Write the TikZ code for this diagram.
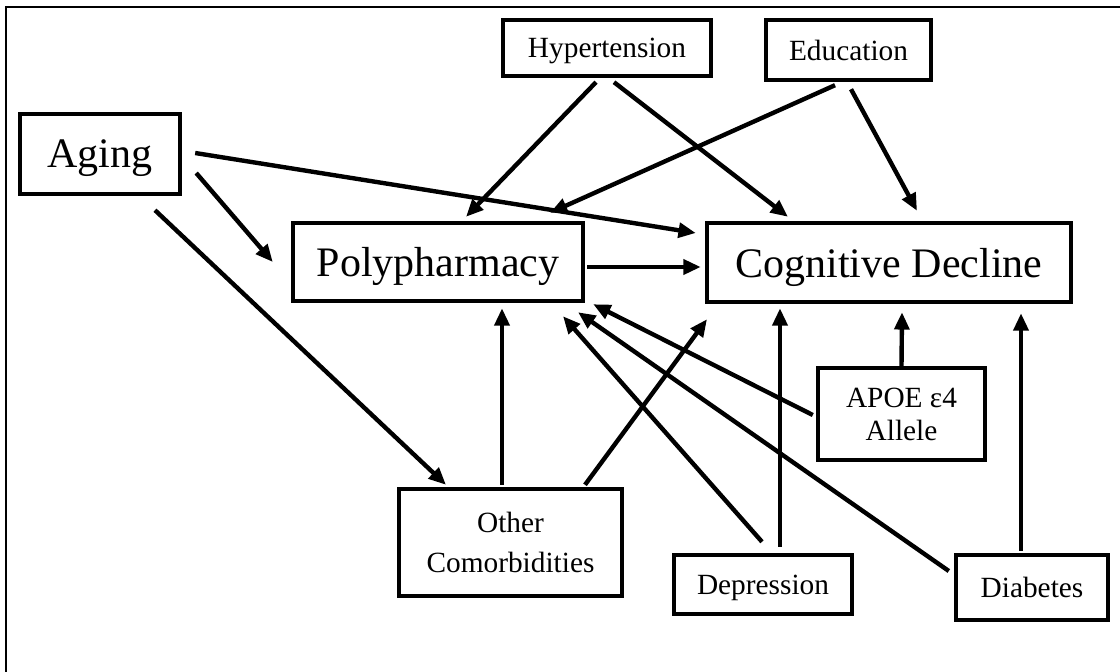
\documentclass[tikz,border=0pt]{standalone}
\usepackage{fontspec}
\setmainfont{Liberation Serif}
\usetikzlibrary{arrows.meta,calc}

\begin{document}
\begin{tikzpicture}[x=0.75pt,y=-0.75pt, >={Triangle[length=13pt,width=11pt]},
  every node/.style={align=center,inner sep=0pt,text depth=0pt},
  bigbox/.style={draw,line width=3.3pt,font=\fontsize{31.5}{37}\selectfont},
  smallbox/.style={draw,line width=3.3pt,font=\fontsize{22}{25}\selectfont},
  link/.style={->,line width=3.3pt}]
\clip (0,0) rectangle (1120,671);
\draw[line width=1.5pt] (5.5,7) rectangle (1140,690);
\node[bigbox,minimum width=.75pt*160,minimum height=.75pt*80] (aging) at (100,154) {Aging};
\node[bigbox,minimum width=.75pt*290,minimum height=.75pt*78] (poly) at (438,262) {Polypharmacy};
\node[bigbox,minimum width=.75pt*364,minimum height=.75pt*79] (cog) at (889,262.5) {Cognitive Decline};
\node[smallbox,minimum width=.75pt*208,minimum height=.75pt*56] (hyper) at (607,48) {Hypertension};
\node[smallbox,minimum width=.75pt*165,minimum height=.75pt*60] (edu) at (848.5,50) {Education};
\node[smallbox,minimum width=.75pt*223,minimum height=.75pt*107] (other) at (510.5,542.5) {Other\\[5pt]Comorbidities};
\node[smallbox,minimum width=.75pt*167,minimum height=.75pt*92] (apoe) at (901.5,414) {APOE ε4\\Allele};
\node[smallbox,minimum width=.75pt*178,minimum height=.75pt*59] (dep) at (763,584.5) {Depression};
\node[smallbox,minimum width=.75pt*152,minimum height=.75pt*65] (diab) at (1032,587.5) {Diabetes};
\draw[link] ($(aging.east)+(14,19)$) -- ($(poly.west)+(-18,0)$);
\draw[link] ($(aging.east)+(13,-1)$) -- ($(cog.west)+(-9,-29.5)$);
\draw[link] ($(aging.south)+(55,14)$) -- ($(other.north)+(-64.5,-2)$);
\draw[link] ($(hyper.south)+(-11,4)$) -- ($(poly.north)+(28,-4)$);
\draw[link] ($(hyper.south)+(7,4)$) -- ($(cog.north)+(-101,-4)$);
\draw[link] ($(edu.south)+(-13.5,3)$) -- ($(poly.north)+(112,-8)$);
\draw[link] ($(edu.south)+(2.5,7)$) -- ($(cog.north)+(28,-10)$);
\draw[link] ($(poly.east)+(2,5)$) -- ($(cog.west)+(-4,4.5)$);
\draw[link] ($(other.north)+(-8.5,-2)$) -- ($(poly.south)+(64,5)$);
\draw[link] ($(other.north)+(74.5,-2)$) -- ($(cog.south)+(-182,15)$);
\draw[link] ($(dep.north)+(-1,-11)$) -- ($(poly.south)+(125,13)$);
\draw[link] ($(dep.north)+(17,-6)$) -- ($(cog.south)+(-109,4)$);
\draw[link] ($(diab.west)+(-5,-16.5)$) -- ($(poly.south)+(140,9)$);
\draw[link] ($(diab.north)+(-11,-2)$) -- ($(cog.south)+(132,9)$);
\draw[link] (apoe.north) -- ($(cog.south)+(13,8)$);
\draw[link] ($(apoe.west)+(-3,1)$) -- ($(poly.south east)+(8,1)$);
\end{tikzpicture}
\end{document}
